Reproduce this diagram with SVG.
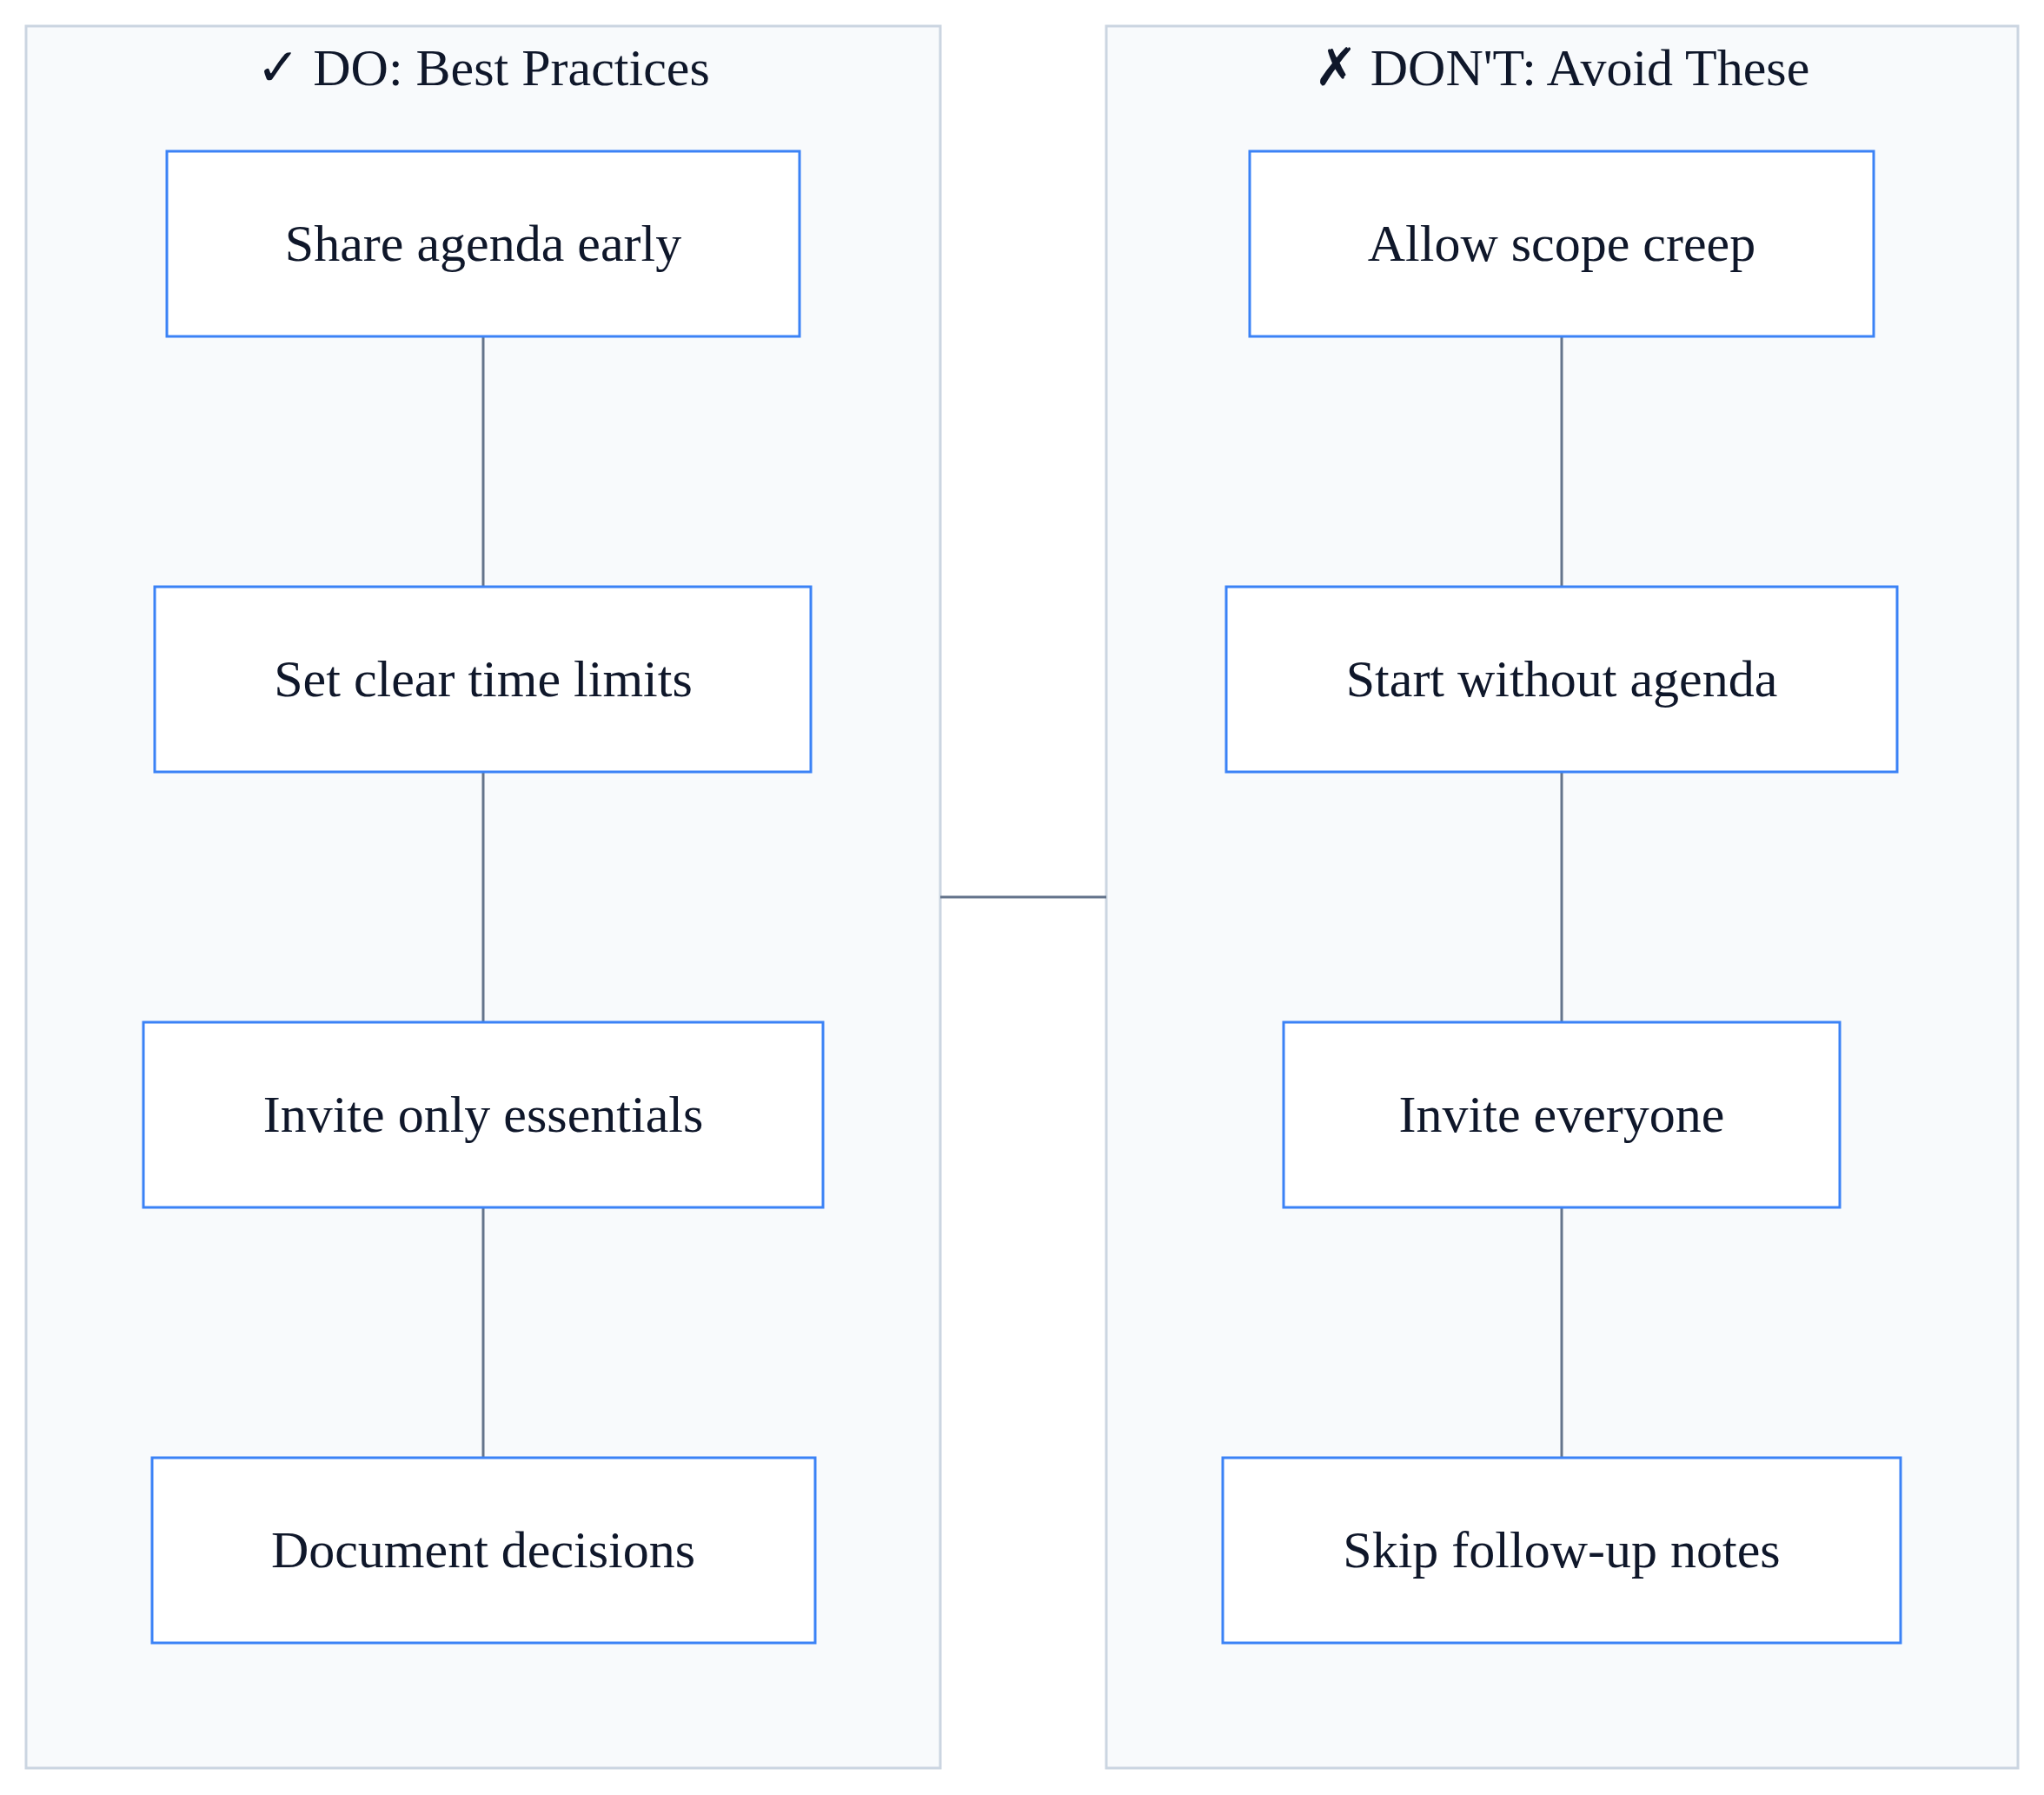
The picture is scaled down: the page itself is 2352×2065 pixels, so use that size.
<svg xmlns="http://www.w3.org/2000/svg" width="2352" height="2065" viewBox="0 0 2352 2065">
<style>
.cl{fill:#f8fafc;stroke:#cbd5e1;stroke-width:3}
.n{fill:#fff;stroke:#3b82f6;stroke-width:3}
text{font-family:"Liberation Serif",serif;fill:#0f172a;text-anchor:middle;dominant-baseline:central}
.t{font-size:60px}.l{font-size:60px}
.e{stroke:#64748b;stroke-width:3;fill:none}
</style>
<rect width="2352" height="2065" fill="#fff"/>
<g id="cluster-do"><rect class="cl" x="30" y="30" width="1052" height="2004"/><text class="t" x="556" y="78">✓ DO: Best Practices</text></g>
<g id="cluster-dont"><rect class="cl" x="1273" y="30" width="1049" height="2004"/><text class="t" x="1797" y="78">✗ DON'T: Avoid These</text></g>
<g id="connectors">
<path class="e" d="M556 387V675M556 888V1176M556 1389V1677M1797 387V675M1797 888V1176M1797 1389V1677M1082 1032H1273"/>
</g>
<g id="d1"><rect class="n" x="192" y="174" width="728" height="213"/><text class="l" x="556" y="280">Share agenda early</text></g>
<g id="d2"><rect class="n" x="178" y="675" width="755" height="213"/><text class="l" x="556" y="781">Set clear time limits</text></g>
<g id="d3"><rect class="n" x="165" y="1176" width="782" height="213"/><text class="l" x="556" y="1282">Invite only essentials</text></g>
<g id="d4"><rect class="n" x="175" y="1677" width="763" height="213"/><text class="l" x="556" y="1783">Document decisions</text></g>
<g id="x1"><rect class="n" x="1438" y="174" width="718" height="213"/><text class="l" x="1797" y="280">Allow scope creep</text></g>
<g id="x2"><rect class="n" x="1411" y="675" width="772" height="213"/><text class="l" x="1797" y="781">Start without agenda</text></g>
<g id="x3"><rect class="n" x="1477" y="1176" width="640" height="213"/><text class="l" x="1797" y="1282">Invite everyone</text></g>
<g id="x4"><rect class="n" x="1407" y="1677" width="780" height="213"/><text class="l" x="1797" y="1783">Skip follow-up notes</text></g>
</svg>
